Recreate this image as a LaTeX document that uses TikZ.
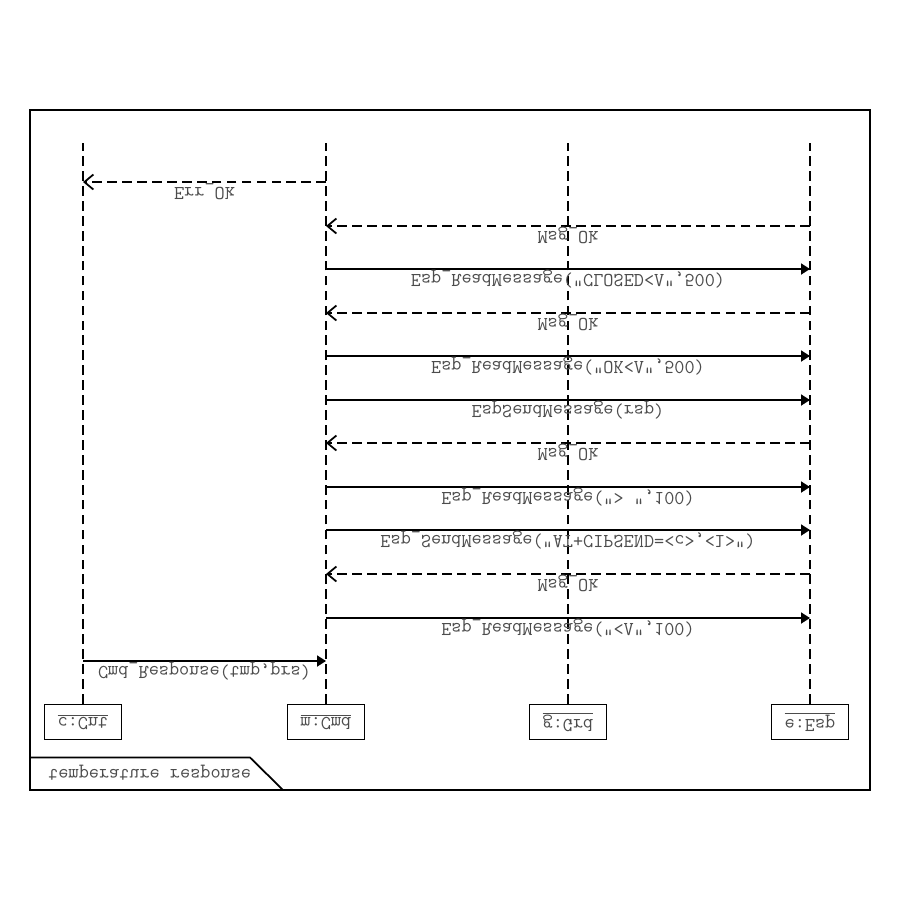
\documentclass[tikz,border=0pt]{standalone}
\usepackage{graphicx}
\usetikzlibrary{arrows.meta}
\newcommand{\lfmark}{\raisebox{\depth}{\scalebox{1}[-1]{V}}}
\tikzset{
	obj/.style={draw, line width=1pt, minimum width=1.54cm, minimum height=0.7cm},
	life/.style={line width=1pt, dash pattern=on 5.5pt off 3pt},
	msg/.style={line width=1pt, -{Triangle[length=1.8mm,width=2.2mm]}},
	ret/.style={line width=1pt, dash pattern=on 5.5pt off 3pt, -{Straight Barb[length=1.8mm,width=3mm]}},
	lbl/.style={above=0.2pt, inner sep=0pt}
}
\begin{document}
\begin{tikzpicture}[yscale=-1, transform shape,
		every node/.style={font=\fontsize{11.2}{13}\selectfont\ttfamily, text=black!70}]
		\useasboundingbox (0,0) rectangle (18,18);
		
		\node[obj] (c) at (1.66,14.44)		{\underline{c:Cnt}};
		\node[obj] (m) at (6.52,14.44)		{\underline{m:Cmd}};
		\node[obj] (g) at (11.36,14.44)		{\underline{g:Grd}};
		\node[obj] (e) at (16.2,14.44)		{\underline{e:Esp}};
		
		\coordinate (t1) at (0,13.22);
		\coordinate (t2) at (0,12.36);
		\coordinate (t3) at (0,11.48);
		\coordinate (t4) at (0,10.6);
		\coordinate (t5) at (0,9.74);
		\coordinate (t6) at (0,8.86);
		\coordinate (t7) at (0,8.0);
		\coordinate (t8) at (0,7.12);
		\coordinate (t9) at (0,6.26);
		\coordinate (t10) at (0,5.38);
		\coordinate (t11) at (0,4.52);
		\coordinate (t12) at (0,3.64);
		\coordinate (z) at (0,2.86);
		
		\draw[life] (c) -- (c |- z);
		\draw[life] (m) -- (m |- z);
		\draw[life] (g) -- (g |- z);
		\draw[life] (e) -- (e |- z);
		
		\draw[msg] (c |- t1) -- node[lbl] {Cmd\_Response(tmp,prs)} (m |- t1);
		\draw[msg] (m |- t2) -- node[lbl] {Esp\_ReadMessage("<\lfmark",100)} (e |- t2);
		\draw[ret] (e |- t3) -- node[lbl] {Msg\_Ok} (m |- t3);
		\draw[msg] (m |- t4) -- node[lbl] {Esp\_SendMessage("AT+CIPSEND=<c>,<l>")} (e |- t4);
		\draw[msg] (m |- t5) -- node[lbl] {Esp\_ReadMessage("> ",100)} (e |- t5);
		\draw[ret] (e |- t6) -- node[lbl] {Msg\_Ok} (m |- t6);
		\draw[msg] (m |- t7) -- node[lbl] {EspSendMessage(rsp)} (e |- t7);
		\draw[msg] (m |- t8) -- node[lbl] {Esp\_ReadMessage("OK<\lfmark",500)} (e |- t8);
		\draw[ret] (e |- t9) -- node[lbl] {Msg\_Ok} (m |- t9);
		\draw[msg] (m |- t10) -- node[lbl] {Esp\_ReadMessage("CLOSED<\lfmark",500)} (e |- t10);
		\draw[ret] (e |- t11) -- node[lbl] {Msg\_Ok} (m |- t11);
		\draw[ret] (m |- t12) -- node[lbl] {Err\_Ok} (c |- t12);
		
		% frame
		\draw[line width=1pt] (0.6,2.2) rectangle (17.4,15.8);
		\draw[line width=1pt] (0.6,15.15) -- (5.0,15.15) -- (5.66,15.8);
		\node[anchor=west, inner sep=0pt] (sd) at (0.96,15.45) {temperature response};
	\end{tikzpicture}
\end{document}
